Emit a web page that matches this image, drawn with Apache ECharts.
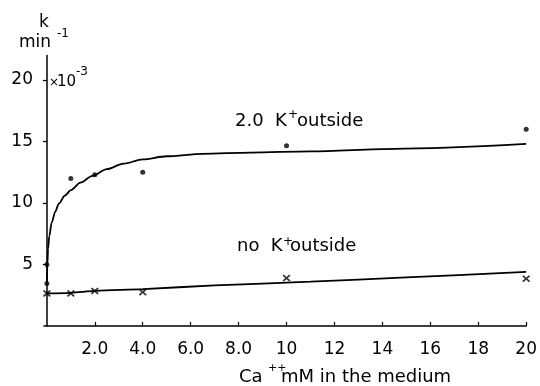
<!DOCTYPE html>
<html><head><meta charset="utf-8">
<script src="https://cdn.jsdelivr.net/npm/echarts@6/dist/echarts.min.js"></script>
<style>html,body{margin:0;padding:0;background:#fff}#c{width:540px;height:386px}</style>
</head><body><div id="c"></div>
<script>
// tick values and labels
const xTicks = [2, 4, 6, 8, 10, 12, 14, 16, 18, 20];
const xTickLabels = ['2.0', '4.0', '6.0', '8.0', '10', '12', '14', '16', '18', '20'];
const yTicks = [5, 10, 15, 20];

// measured points: 2.0 K+ outside (dots)
const kPtsX = [0, 0, 1, 2, 4, 10, 20];
const kPtsY = [3.45, 5.0, 12.0, 12.3, 12.5, 14.65, 16.0];
// measured points: no K+ outside (crosses)
const noKPtsX = [0, 1, 2, 4, 10, 20];
const noKPtsY = [2.65, 2.65, 2.85, 2.75, 3.9, 3.85];

// fitted curves
const kCurveX = [0, 0.02, 0.05, 0.1, 0.2, 0.35, 0.5, 0.75, 1.0, 1.4, 1.9, 2.5, 3.2, 4.0, 5.0, 6.5, 8.5, 11, 14.5, 20];
const kCurveY = [3.5, 5.0, 6.3, 7.3, 8.4, 9.3, 9.95, 10.6, 11.05, 11.65, 12.2, 12.75, 13.2, 13.55, 13.8, 14.0, 14.1, 14.2, 14.4, 14.8];
const noKCurveX = [0, 1, 2, 4, 7, 11, 15, 20];
const noKCurveY = [2.65, 2.7, 2.85, 3.0, 3.3, 3.6, 3.95, 4.4];

const zip = (a, b) => a.map((v, i) => [v, b[i]]);
const FONT = 'DejaVu Sans';
const crossPath = 'path://M0,1.6 L1.6,0 L5,3.4 L8.4,0 L10,1.6 L6.6,5 L10,8.4 L8.4,10 L5,6.6 L1.6,10 L0,8.4 L3.4,5 Z';

function txt(x, top, s, size) {
  return {type: 'text', x: x, y: top, style: {text: s, font: size + 'px "DejaVu Sans"', fill: '#000', verticalAlign: 'top', align: 'left'}};
}

const chart = echarts.init(document.getElementById('c'), null, {renderer: 'canvas'});
chart.setOption({
  animation: false,
  backgroundColor: '#fff',
  grid: {left: 44, right: 11, top: 55.4, bottom: 60, containLabel: false},
  xAxis: {
    type: 'value', min: -0.12, max: 20,
    axisLine: {lineStyle: {color: '#000', width: 1.5}},
    axisTick: {show: true, inside: true, length: 4, customValues: xTicks, lineStyle: {color: '#000', width: 1.2}},
    axisLabel: {
      customValues: xTicks, margin: 15, color: '#000', fontFamily: FONT, fontSize: 17,
      formatter: v => xTickLabels[xTicks.indexOf(Math.round(v))]
    },
    splitLine: {show: false}
  },
  yAxis: {
    type: 'value', min: 0, max: 22,
    axisLine: {show: true, lineStyle: {color: '#000', width: 1.5}},
    axisTick: {show: true, length: 4, customValues: yTicks, lineStyle: {color: '#000', width: 1.2}},
    axisLabel: {customValues: yTicks, margin: 11, color: '#000', fontFamily: FONT, fontSize: 17},
    splitLine: {show: false}
  },
  series: [
    {type: 'line', data: zip(kCurveX, kCurveY), smooth: 0.3, smoothMonotone: 'x', showSymbol: false,
     lineStyle: {color: '#000', width: 1.8}, silent: true},
    {type: 'line', data: zip(noKCurveX, noKCurveY), smooth: 0.3, showSymbol: false,
     lineStyle: {color: '#000', width: 1.8}, silent: true},
    {type: 'scatter', data: zip(kPtsX, kPtsY), symbol: 'circle', symbolSize: 5,
     itemStyle: {color: '#000'}, clip: false},
    {type: 'scatter', data: zip(noKPtsX, noKPtsY), symbol: crossPath, symbolSize: [8, 7],
     itemStyle: {color: '#000'}, clip: false}
  ],
  graphic: [
    txt(39, 13.6, 'k', 17),
    txt(19, 33.6, 'min', 17),
    txt(57, 27.9, '-1', 12),
    txt(49, 77, '×', 12),
    txt(57, 74.3, '10', 15),
    txt(76, 65.9, '-3', 12),
    txt(235, 112.8, '2.0  K', 18),
    txt(288, 108.9, '+', 12),
    txt(297, 112.8, 'outside', 18),
    txt(237, 237.8, 'no  K', 18),
    txt(283, 235.9, '+', 12),
    txt(290, 237.8, 'outside', 18),
    txt(239, 368.8, 'Ca', 18),
    txt(268, 362.7, '++', 11),
    txt(281, 368.8, 'mM in the medium', 18)
  ]
});
</script></body></html>
